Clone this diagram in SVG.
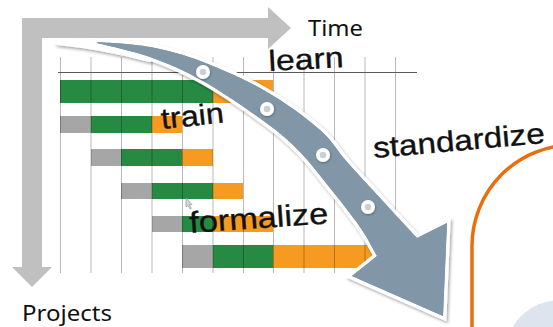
<svg xmlns="http://www.w3.org/2000/svg" width="553" height="327" viewBox="0 0 553 327">
  <defs>
    <style>
      .axis { fill: #c0c0c0; }
      .g { fill: #268a43; }
      .o { fill: #f69a22; }
      .p { fill: #a6a6a6; }
      .grid { stroke: #000; stroke-opacity: 0.28; stroke-width: 1; fill: none; }
      .lbl { font-family: "Liberation Sans", Arial, sans-serif; fill: #111; stroke: #111; stroke-width: 0.35; }
      .ax { font-family: "Noto Sans", "Liberation Sans", sans-serif; font-size: 21px; fill: #111; }
      .dot-o { fill: #ffffff; }
      .dot-i { fill: #c9d0d7; }
    </style>
    <filter id="sh" x="-10%" y="-10%" width="130%" height="130%">
      <feDropShadow dx="1.5" dy="2" stdDeviation="1.8" flood-color="#000" flood-opacity="0.35"/>
    </filter>
    <filter id="sh2" x="-50%" y="-50%" width="200%" height="200%">
      <feDropShadow dx="0.5" dy="1" stdDeviation="1" flood-color="#000" flood-opacity="0.35"/>
    </filter>
  </defs>

  <rect width="553" height="327" fill="#ffffff"/>

  <!-- right side decoration -->
  <g id="orange-frame">
    <path d="M472,330 L472,246 A101,101 0 0 1 573,145" fill="none" stroke="#ec6d0e" stroke-width="3.5"/>
  </g>
  <g id="blue-circle">
    <circle cx="560" cy="355" r="55" fill="#dde4ee"/>
  </g>

  <!-- axes -->
  <g id="time-axis">
    <rect class="axis" x="22" y="18" width="248" height="20"/>
    <polygon class="axis" points="268,7 291,28 268,49"/>
    <text class="ax" x="308" y="36" textLength="55" lengthAdjust="spacingAndGlyphs">Time</text>
  </g>
  <g id="projects-axis">
    <rect class="axis" x="22" y="18" width="20" height="250"/>
    <polygon class="axis" points="12,267 52,267 32,287"/>
    <text class="ax" x="22" y="321" textLength="90" lengthAdjust="spacingAndGlyphs">Projects</text>
  </g>

  <!-- gantt bars -->
  <g id="bars">
    <rect class="g" x="60" y="80" width="153" height="23"/>
    <rect class="o" x="213" y="80" width="60" height="23"/>

    <rect class="p" x="60" y="116" width="31" height="17"/>
    <rect class="g" x="91" y="116" width="61" height="17"/>
    <rect class="o" x="152" y="116" width="30" height="17"/>

    <rect class="p" x="91" y="149" width="30" height="17"/>
    <rect class="g" x="121" y="149" width="61" height="17"/>
    <rect class="o" x="182" y="149" width="31" height="17"/>

    <rect class="p" x="121" y="183" width="31" height="16"/>
    <rect class="g" x="152" y="183" width="61" height="16"/>
    <rect class="o" x="213" y="183" width="30" height="16"/>

    <rect class="p" x="152" y="216" width="30" height="16"/>
    <rect class="g" x="182" y="216" width="31" height="16"/>
    <rect class="o" x="213" y="216" width="60" height="16"/>

    <rect class="p" x="182" y="245" width="31" height="23"/>
    <rect class="g" x="213" y="245" width="60" height="23"/>
    <rect class="o" x="273" y="245" width="105" height="23"/>
  </g>

  <!-- grid -->
  <g id="grid">
    <path class="grid" d="M60.5,57V273 M91,57V273 M121.5,57V273 M152,57V273 M182.5,57V273 M213,57V273 M243.5,57V273 M273.5,57V273 M304,57V273 M334.5,57V273 M365,57V273 M395.5,57V273"/>
    <line x1="58" y1="72.5" x2="417" y2="72.5" stroke="#5a5a5a" stroke-width="1"/>
  </g>

  <!-- cursor -->
  <g id="cursor">
    <polygon points="186,198 186,207 188,205.3 190,209 191.3,208.4 189.4,204.7 192,204.5" fill="#d6d6d6" stroke="#8a8a8a" stroke-width="0.6"/>
  </g>

  <!-- big curved arrow -->
  <g id="process-arrow" filter="url(#sh)">
    <path d="M57,43 C75,40 95,41 112,44 L150,60 C120,52 88,46 57,43 Z" fill="#ffffff" stroke="#ffffff" stroke-width="4" stroke-linejoin="round"/>
    <path d="M97,42 C105.8,42.8 132.3,43.7 150,47 C167.7,50.3 183.5,54.5 203,62 C222.5,69.5 247.5,80.7 267,92 C286.5,103.3 306.7,118.3 320,130 C333.3,141.7 337,150.7 347,162 C357,173.3 368.3,185.3 380,198 C391.7,210.7 410.8,231.3 417,238 L447,223 L443,316 L352,276 L377,256 C374.2,251.2 367.8,238.3 360,227 C352.2,215.7 340,200.5 330,188 C320,175.5 310.8,163 300,152 C289.2,141 281.2,133.8 265,122 C248.8,110.2 222.2,91.8 203,81 C183.8,70.2 167.7,63.3 150,57 C132.3,50.7 105.8,45.3 97,43 Z" fill="#8197a8" stroke="#ffffff" stroke-width="7" stroke-linejoin="miter" paint-order="stroke"/>
    <path d="M97,42 C105.8,42.8 132.3,43.7 150,47 C167.7,50.3 183.5,54.5 203,62 C222.5,69.5 247.5,80.7 267,92 C286.5,103.3 306.7,118.3 320,130 C333.3,141.7 337,150.7 347,162 C357,173.3 368.3,185.3 380,198 C391.7,210.7 410.8,231.3 417,238 L447,223 L443,316 L352,276 L377,256 C374.2,251.2 367.8,238.3 360,227 C352.2,215.7 340,200.5 330,188 C320,175.5 310.8,163 300,152 C289.2,141 281.2,133.8 265,122 C248.8,110.2 222.2,91.8 203,81 C183.8,70.2 167.7,63.3 150,57 C132.3,50.7 105.8,45.3 97,43 Z" fill="#8197a8"/>
  </g>
  <g id="arrow-dots">
    <g filter="url(#sh2)">
      <circle class="dot-o" cx="203" cy="72" r="7"/>
      <circle class="dot-o" cx="267" cy="109" r="7"/>
      <circle class="dot-o" cx="323" cy="155" r="7"/>
      <circle class="dot-o" cx="368" cy="207" r="7"/>
    </g>
    <circle class="dot-i" cx="203" cy="72" r="3.3"/>
    <circle class="dot-i" cx="267" cy="109" r="3.3"/>
    <circle class="dot-i" cx="323" cy="155" r="3.3"/>
    <circle class="dot-i" cx="368" cy="207" r="3.3"/>
  </g>

  <!-- labels -->
  <g id="label-learn">
    <text class="lbl" x="269" y="71" font-size="29" textLength="75" lengthAdjust="spacingAndGlyphs" transform="rotate(-3 269 71)">learn</text>
  </g>
  <g id="label-train">
    <text class="lbl" x="162" y="129" font-size="29" textLength="63" lengthAdjust="spacingAndGlyphs" transform="rotate(-6 162 129)">train</text>
  </g>
  <g id="label-standardize">
    <text class="lbl" x="374" y="158" font-size="29" textLength="172" lengthAdjust="spacingAndGlyphs" transform="rotate(-5 374 158)">standardize</text>
  </g>
  <g id="label-formalize">
    <text class="lbl" x="190" y="233" font-size="30" textLength="139" lengthAdjust="spacingAndGlyphs" transform="rotate(-4 190 233)">formalize</text>
  </g>
</svg>
